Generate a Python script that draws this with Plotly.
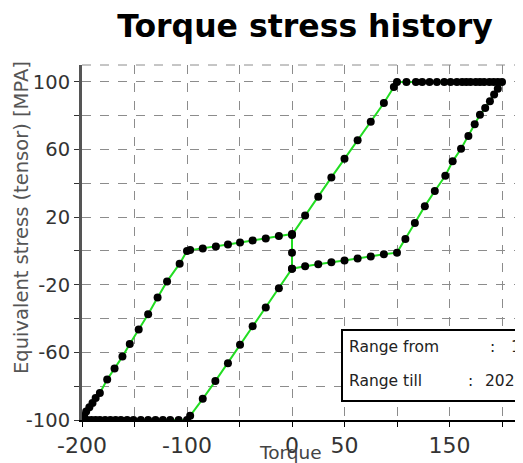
import plotly.graph_objects as go

# ---- data ----
H_x = [0, 12.5, 25, 37.5, 50, 62.5, 75, 87.5, 97, 100]
H_y = [9.5, 21, 32, 43.5, 54.5, 65.5, 76.5, 87.5, 97, 100]

G_x = [109, 118, 124, 131, 138, 145, 151, 157, 162, 166, 170, 175, 179, 183, 188, 192, 196, 200]
G_y = [100] * len(G_x)

F_x = [196, 192.5, 188.5, 184, 179, 174, 168, 161, 153, 146, 136, 126.5, 117, 108, 100]
F_y = [96, 92.5, 88.5, 84.5, 80.5, 75, 68, 60.5, 53, 44.5, 35.5, 26.5, 16.5, 7, -1]

E_x = [87.5, 75, 62.5, 50, 37.5, 25, 12.5, 0]
E_y = [-2, -3.3, -4.5, -5.6, -6.7, -7.8, -9, -10.5]

D_x = [-12.5, -25, -37.5, -49.5, -61, -73, -85, -97, -100]
D_y = [-22, -33.5, -44.5, -55.5, -66.5, -77, -87.5, -97.5, -100]

I_x = [-108, -116, -123, -130, -137, -144, -151, -157, -163, -168, -173, -178, -183, -187, -191, -195, -198, -200]
I_y = [-100] * len(I_x)

A_x = [-198, -196, -193, -190, -187, -183, -176, -169, -161.5, -154.5, -146, -137, -128, -119, -107, -100]
A_y = [-97.5, -95, -92.5, -90, -87, -84, -76, -69.5, -62.5, -55, -46.5, -37.5, -27.5, -18, -7.5, 0]

B_x = [-97, -85, -72.5, -61, -49.5, -37.5, -25, -12.5, 0]
B_y = [0.5, 1.5, 2.7, 3.8, 5, 6.2, 7.4, 8.8, 10]

V_x = [0, 0]
V_y = [-1, -10.5]

torque = H_x + G_x + F_x + E_x + D_x + I_x + A_x + B_x + V_x
stress = H_y + G_y + F_y + E_y + D_y + I_y + A_y + B_y + V_y

x_ticks = [-200, -150, -100, -50, 0, 50, 100, 150, 200]
x_labels = ["-200", "", "-100", "", "0", "50", "", "150", ""]
y_ticks = [-100, -80, -60, -40, -20, 0, 20, 40, 60, 80, 100]
y_labels = ["-100", "", "-60", "", "-20", "", "20", "", "60", "", "100"]

title_text = "Torque stress history"
x_title = "Torque"
y_title = "Equivalent stress (tensor) [MPA]"
info_labels = ["Range from", "Range till"]
info_values = ["1", "2020"]

FONT = "DejaVu Sans"
W, H = 523, 463
OFF = 8  # page offset of the figure inside the window
L, R, T, B = 82 - OFF, OFF, 65 - OFF, H - (420 - OFF)
PW, PH = W - L - R, H - T - B

def px(x):
    return (x - OFF - L) / PW

def py(y):
    return (H - B - (y - OFF)) / PH

fig = go.Figure()
fig.add_trace(go.Scatter(
    x=torque, y=stress, mode="lines+markers",
    line=dict(color="#22dd22", width=2),
    marker=dict(color="black", size=8),
    showlegend=False,
))

info_font = dict(size=15.5, color="#222")
annotations = [
    dict(text=x_title, xref="paper", yref="paper", x=px(290), y=py(452),
         xanchor="center", yanchor="middle", showarrow=False,
         font=dict(size=18.5, color="#444")),
    dict(text=y_title, xref="paper", yref="paper", x=px(21), y=py(218),
         xanchor="center", yanchor="middle", textangle=-90, showarrow=False,
         font=dict(size=19.5, color="#555")),
]
for i, (lab, val) in enumerate(zip(info_labels, info_values)):
    yy = py(347 + 34 * i)
    colon_x = [492, 470][i]
    val_x = [509, 483][i]
    annotations += [
        dict(text=lab, xref="paper", yref="paper", x=px(347), y=yy,
             xanchor="left", yanchor="middle", showarrow=False, font=info_font),
        dict(text=":", xref="paper", yref="paper", x=px(colon_x), y=yy,
             xanchor="center", yanchor="middle", showarrow=False, font=info_font),
        dict(text=val, xref="paper", yref="paper", x=px(val_x), y=yy,
             xanchor="left", yanchor="middle", showarrow=False, font=info_font),
    ]

fig.update_layout(
    width=W, height=H,
    margin=dict(l=L, r=R, t=T, b=B),
    paper_bgcolor="white", plot_bgcolor="white",
    font=dict(family=FONT, color="#333"),
    title=dict(text="<b>" + title_text + "</b>", x=(305 - OFF) / W, y=1 - (26 - OFF) / H,
               xanchor="center", yanchor="middle",
               font=dict(family=FONT, size=31.5, color="black")),
    xaxis=dict(range=[-200, 220], tickvals=x_ticks, ticktext=x_labels,
               showgrid=True, gridcolor="#8c8c8c", griddash="dash", gridwidth=1,
               showline=True, linecolor="black", linewidth=2,
               ticks="outside", ticklen=5, tickcolor="black",
               tickfont=dict(size=22, color="#333"), zeroline=False),
    yaxis=dict(range=[-100, 110], tickvals=y_ticks, ticktext=y_labels,
               showgrid=True, gridcolor="#8c8c8c", griddash="dash", gridwidth=1,
               showline=True, linecolor="#555", linewidth=3,
               ticks="outside", ticklen=5, tickcolor="#333",
               tickfont=dict(size=19.5, color="#333"), zeroline=False),
    shapes=[
        dict(type="line", xref="paper", yref="paper", x0=0, x1=1, y0=1, y1=1,
             line=dict(color="#8c8c8c", width=1, dash="dash")),
        dict(type="rect", xref="paper", yref="paper",
             x0=px(342), x1=px(640), y0=py(401), y1=py(330),
             line=dict(color="black", width=2), fillcolor="white", layer="above"),
    ],
    annotations=annotations,
)

fig.write_html("out.html")
